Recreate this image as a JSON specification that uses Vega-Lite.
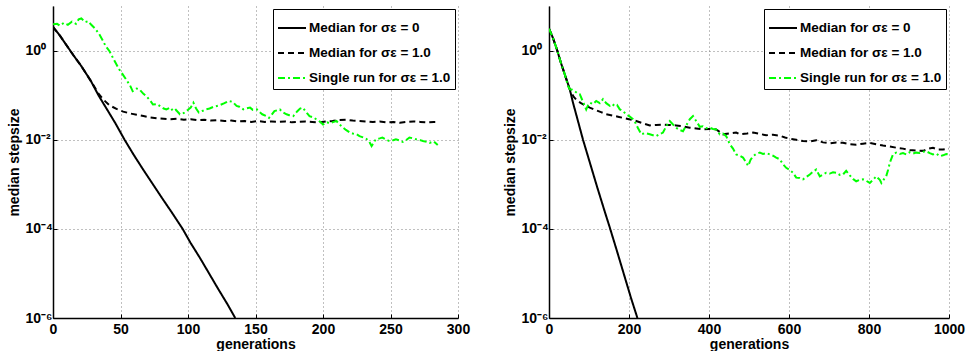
{
  "$schema": "https://vega.github.io/schema/vega-lite/v6.json",
  "background": "white",
  "padding": {"left": 7, "top": 6, "right": 5, "bottom": 0},
  "bounds": "flush",
  "spacing": 91,
  "config": {
    "view": {"stroke": null},
    "font": "Liberation Sans",
    "axis": {
      "labelFont": "Liberation Sans",
      "labelFontWeight": "bold",
      "labelFontSize": 14,
      "labelColor": "black",
      "titleFont": "Liberation Sans",
      "titleFontWeight": "bold",
      "titleFontSize": 14,
      "titleColor": "black",
      "domainColor": "black",
      "domainWidth": 1.5,
      "ticks": true,
      "tickSize": -4,
      "tickColor": "black",
      "tickWidth": 1,
      "gridColor": "#808080",
      "gridDash": [1, 3],
      "gridWidth": 1,
      "labelFlush": false,
      "labelOverlap": false,
      "format": "d"
    },
    "axisX": {"labelPadding": 8, "titlePadding": 1},
    "legend": {
      "orient": "top-right",
      "offset": 3,
      "strokeColor": "black",
      "fillColor": "white",
      "padding": 4,
      "cornerRadius": 0,
      "symbolType": "stroke",
      "symbolSize": 784,
      "symbolStrokeWidth": 2,
      "labelFont": "Liberation Sans",
      "labelFontWeight": "bold",
      "labelFontSize": 13.5,
      "labelColor": "black",
      "labelOffset": 2,
      "rowPadding": 3,
      "labelLimit": 300
    }
  },
  "datasets": {
    "evo300": [
      {"g": 0, "v": 3.39, "s": "m0"}, {"g": 5, "v": 2.19, "s": "m0"}, {"g": 10, "v": 1.318, "s": "m0"},
      {"g": 15, "v": 0.794, "s": "m0"}, {"g": 21, "v": 0.447, "s": "m0"}, {"g": 28, "v": 0.209, "s": "m0"},
      {"g": 34, "v": 0.0955, "s": "m0"}, {"g": 40, "v": 0.0479, "s": "m0"}, {"g": 46, "v": 0.024, "s": "m0"},
      {"g": 53, "v": 0.01, "s": "m0"}, {"g": 60, "v": 0.00447, "s": "m0"}, {"g": 67, "v": 0.00209, "s": "m0"},
      {"g": 74, "v": 0.001, "s": "m0"}, {"g": 81, "v": 0.000479, "s": "m0"}, {"g": 88, "v": 0.000234, "s": "m0"},
      {"g": 96, "v": 0.0001, "s": "m0"}, {"g": 102, "v": 4.79e-5, "s": "m0"}, {"g": 109, "v": 2.19e-5, "s": "m0"},
      {"g": 116, "v": 9.55e-6, "s": "m0"}, {"g": 122, "v": 4.68e-6, "s": "m0"}, {"g": 129, "v": 2.09e-6, "s": "m0"},
      {"g": 135, "v": 1e-6, "s": "m0"},

      {"g": 0, "v": 3.39, "s": "m1"}, {"g": 5, "v": 2.19, "s": "m1"}, {"g": 10, "v": 1.318, "s": "m1"},
      {"g": 15, "v": 0.794, "s": "m1"}, {"g": 21, "v": 0.447, "s": "m1"}, {"g": 28, "v": 0.209, "s": "m1"},
      {"g": 34, "v": 0.1047, "s": "m1"}, {"g": 38, "v": 0.0759, "s": "m1"}, {"g": 42, "v": 0.0589, "s": "m1"},
      {"g": 47, "v": 0.049, "s": "m1"}, {"g": 52, "v": 0.0427, "s": "m1"}, {"g": 57, "v": 0.0389, "s": "m1"},
      {"g": 62, "v": 0.0363, "s": "m1"}, {"g": 67, "v": 0.0339, "s": "m1"}, {"g": 72, "v": 0.0316, "s": "m1"},
      {"g": 77, "v": 0.0302, "s": "m1"}, {"g": 82, "v": 0.0295, "s": "m1"}, {"g": 87, "v": 0.0288, "s": "m1"},
      {"g": 92, "v": 0.0295, "s": "m1"}, {"g": 97, "v": 0.0282, "s": "m1"}, {"g": 102, "v": 0.0288, "s": "m1"},
      {"g": 107, "v": 0.0275, "s": "m1"}, {"g": 112, "v": 0.0282, "s": "m1"}, {"g": 117, "v": 0.0269, "s": "m1"},
      {"g": 122, "v": 0.0275, "s": "m1"}, {"g": 127, "v": 0.0263, "s": "m1"}, {"g": 132, "v": 0.0269, "s": "m1"},
      {"g": 137, "v": 0.0257, "s": "m1"}, {"g": 142, "v": 0.0263, "s": "m1"}, {"g": 147, "v": 0.0251, "s": "m1"},
      {"g": 152, "v": 0.0263, "s": "m1"}, {"g": 157, "v": 0.0251, "s": "m1"}, {"g": 162, "v": 0.0257, "s": "m1"},
      {"g": 167, "v": 0.0251, "s": "m1"}, {"g": 172, "v": 0.0257, "s": "m1"}, {"g": 177, "v": 0.0245, "s": "m1"},
      {"g": 182, "v": 0.0251, "s": "m1"}, {"g": 187, "v": 0.0257, "s": "m1"}, {"g": 192, "v": 0.0251, "s": "m1"},
      {"g": 197, "v": 0.0245, "s": "m1"}, {"g": 202, "v": 0.0257, "s": "m1"}, {"g": 207, "v": 0.0263, "s": "m1"},
      {"g": 212, "v": 0.0275, "s": "m1"}, {"g": 217, "v": 0.0282, "s": "m1"}, {"g": 222, "v": 0.0269, "s": "m1"},
      {"g": 227, "v": 0.0263, "s": "m1"}, {"g": 232, "v": 0.0257, "s": "m1"}, {"g": 237, "v": 0.0251, "s": "m1"},
      {"g": 242, "v": 0.0257, "s": "m1"}, {"g": 247, "v": 0.0245, "s": "m1"}, {"g": 252, "v": 0.0251, "s": "m1"},
      {"g": 257, "v": 0.024, "s": "m1"}, {"g": 262, "v": 0.0251, "s": "m1"}, {"g": 267, "v": 0.0257, "s": "m1"},
      {"g": 272, "v": 0.0251, "s": "m1"}, {"g": 277, "v": 0.0245, "s": "m1"}, {"g": 282, "v": 0.0251, "s": "m1"},
      {"g": 286, "v": 0.0251, "s": "m1"},

      {"g": 0, "v": 3.89, "s": "run"}, {"g": 3, "v": 3.98, "s": "run"}, {"g": 5, "v": 3.63, "s": "run"},
      {"g": 8, "v": 4.17, "s": "run"}, {"g": 11, "v": 3.8, "s": "run"}, {"g": 14, "v": 4.47, "s": "run"},
      {"g": 17, "v": 3.98, "s": "run"}, {"g": 19, "v": 5.01, "s": "run"}, {"g": 21, "v": 5.25, "s": "run"},
      {"g": 24, "v": 4.37, "s": "run"}, {"g": 26, "v": 4.57, "s": "run"}, {"g": 28, "v": 3.89, "s": "run"},
      {"g": 31, "v": 3.16, "s": "run"}, {"g": 34, "v": 2.4, "s": "run"}, {"g": 37, "v": 1.66, "s": "run"},
      {"g": 39, "v": 1.26, "s": "run"}, {"g": 42, "v": 0.955, "s": "run"}, {"g": 45, "v": 0.631, "s": "run"},
      {"g": 49, "v": 0.38, "s": "run"}, {"g": 52, "v": 0.282, "s": "run"}, {"g": 54, "v": 0.229, "s": "run"},
      {"g": 57, "v": 0.166, "s": "run"}, {"g": 59, "v": 0.123, "s": "run"}, {"g": 62, "v": 0.141, "s": "run"},
      {"g": 64, "v": 0.135, "s": "run"}, {"g": 67, "v": 0.107, "s": "run"}, {"g": 69, "v": 0.0955, "s": "run"},
      {"g": 72, "v": 0.0759, "s": "run"}, {"g": 74, "v": 0.0617, "s": "run"}, {"g": 77, "v": 0.0631, "s": "run"},
      {"g": 79, "v": 0.0575, "s": "run"}, {"g": 82, "v": 0.0501, "s": "run"}, {"g": 84, "v": 0.0479, "s": "run"},
      {"g": 87, "v": 0.0525, "s": "run"}, {"g": 89, "v": 0.0437, "s": "run"}, {"g": 91, "v": 0.0468, "s": "run"},
      {"g": 94, "v": 0.0372, "s": "run"}, {"g": 97, "v": 0.0398, "s": "run"}, {"g": 100, "v": 0.0468, "s": "run"},
      {"g": 102, "v": 0.0525, "s": "run"}, {"g": 104, "v": 0.0676, "s": "run"}, {"g": 106, "v": 0.0501, "s": "run"},
      {"g": 108, "v": 0.0407, "s": "run"}, {"g": 111, "v": 0.0447, "s": "run"}, {"g": 113, "v": 0.0479, "s": "run"},
      {"g": 116, "v": 0.0501, "s": "run"}, {"g": 119, "v": 0.055, "s": "run"}, {"g": 123, "v": 0.0589, "s": "run"},
      {"g": 127, "v": 0.0661, "s": "run"}, {"g": 130, "v": 0.0741, "s": "run"}, {"g": 133, "v": 0.0708, "s": "run"},
      {"g": 136, "v": 0.0575, "s": "run"}, {"g": 138, "v": 0.055, "s": "run"}, {"g": 141, "v": 0.0479, "s": "run"},
      {"g": 143, "v": 0.0501, "s": "run"}, {"g": 146, "v": 0.0525, "s": "run"}, {"g": 148, "v": 0.0468, "s": "run"},
      {"g": 151, "v": 0.0479, "s": "run"}, {"g": 153, "v": 0.0417, "s": "run"}, {"g": 155, "v": 0.0372, "s": "run"},
      {"g": 158, "v": 0.0339, "s": "run"}, {"g": 160, "v": 0.0309, "s": "run"}, {"g": 162, "v": 0.0363, "s": "run"},
      {"g": 164, "v": 0.0437, "s": "run"}, {"g": 166, "v": 0.0457, "s": "run"}, {"g": 168, "v": 0.0479, "s": "run"},
      {"g": 170, "v": 0.0417, "s": "run"}, {"g": 173, "v": 0.0372, "s": "run"}, {"g": 175, "v": 0.0355, "s": "run"},
      {"g": 178, "v": 0.0339, "s": "run"}, {"g": 181, "v": 0.0437, "s": "run"}, {"g": 183, "v": 0.0501, "s": "run"},
      {"g": 185, "v": 0.0525, "s": "run"}, {"g": 188, "v": 0.0398, "s": "run"}, {"g": 190, "v": 0.0339, "s": "run"},
      {"g": 193, "v": 0.0316, "s": "run"}, {"g": 195, "v": 0.0288, "s": "run"}, {"g": 198, "v": 0.0251, "s": "run"},
      {"g": 200, "v": 0.0219, "s": "run"}, {"g": 203, "v": 0.0245, "s": "run"}, {"g": 205, "v": 0.0234, "s": "run"},
      {"g": 208, "v": 0.0251, "s": "run"}, {"g": 210, "v": 0.0263, "s": "run"}, {"g": 212, "v": 0.0224, "s": "run"},
      {"g": 215, "v": 0.0186, "s": "run"}, {"g": 217, "v": 0.0166, "s": "run"}, {"g": 220, "v": 0.0145, "s": "run"},
      {"g": 222, "v": 0.0138, "s": "run"}, {"g": 225, "v": 0.0132, "s": "run"}, {"g": 227, "v": 0.012, "s": "run"},
      {"g": 230, "v": 0.0112, "s": "run"}, {"g": 232, "v": 0.0105, "s": "run"}, {"g": 234, "v": 0.00933, "s": "run"},
      {"g": 236, "v": 0.00724, "s": "run"}, {"g": 238, "v": 0.00891, "s": "run"}, {"g": 239, "v": 0.0102, "s": "run"},
      {"g": 242, "v": 0.0107, "s": "run"}, {"g": 244, "v": 0.0112, "s": "run"}, {"g": 247, "v": 0.01, "s": "run"},
      {"g": 249, "v": 0.00933, "s": "run"}, {"g": 252, "v": 0.00977, "s": "run"}, {"g": 254, "v": 0.0102, "s": "run"},
      {"g": 257, "v": 0.00955, "s": "run"}, {"g": 259, "v": 0.00891, "s": "run"}, {"g": 262, "v": 0.01, "s": "run"},
      {"g": 264, "v": 0.0112, "s": "run"}, {"g": 267, "v": 0.0107, "s": "run"}, {"g": 269, "v": 0.0102, "s": "run"},
      {"g": 272, "v": 0.00977, "s": "run"}, {"g": 274, "v": 0.00933, "s": "run"}, {"g": 277, "v": 0.00891, "s": "run"},
      {"g": 279, "v": 0.00851, "s": "run"}, {"g": 282, "v": 0.00912, "s": "run"}, {"g": 285, "v": 0.00759, "s": "run"}
    ],
    "evo1000": [
      {"g": 0, "v": 3.09, "s": "m0"}, {"g": 10, "v": 1.91, "s": "m0"}, {"g": 20, "v": 1.047, "s": "m0"},
      {"g": 30, "v": 0.525, "s": "m0"}, {"g": 40, "v": 0.282, "s": "m0"}, {"g": 52, "v": 0.135, "s": "m0"},
      {"g": 60, "v": 0.0676, "s": "m0"}, {"g": 70, "v": 0.0316, "s": "m0"}, {"g": 85, "v": 0.01, "s": "m0"},
      {"g": 100, "v": 0.00355, "s": "m0"}, {"g": 120, "v": 0.000891, "s": "m0"}, {"g": 140, "v": 0.000234, "s": "m0"},
      {"g": 152, "v": 0.000107, "s": "m0"}, {"g": 170, "v": 3.16e-5, "s": "m0"}, {"g": 190, "v": 7.94e-6, "s": "m0"},
      {"g": 205, "v": 2.82e-6, "s": "m0"}, {"g": 221, "v": 1e-6, "s": "m0"},

      {"g": 0, "v": 3.09, "s": "m1"}, {"g": 10, "v": 1.91, "s": "m1"}, {"g": 20, "v": 1.047, "s": "m1"},
      {"g": 30, "v": 0.525, "s": "m1"}, {"g": 40, "v": 0.282, "s": "m1"}, {"g": 50, "v": 0.148, "s": "m1"},
      {"g": 56, "v": 0.112, "s": "m1"}, {"g": 62, "v": 0.0912, "s": "m1"}, {"g": 70, "v": 0.0759, "s": "m1"},
      {"g": 80, "v": 0.0661, "s": "m1"}, {"g": 90, "v": 0.0589, "s": "m1"}, {"g": 102, "v": 0.0525, "s": "m1"},
      {"g": 115, "v": 0.0468, "s": "m1"}, {"g": 130, "v": 0.0417, "s": "m1"}, {"g": 143, "v": 0.0372, "s": "m1"},
      {"g": 160, "v": 0.0347, "s": "m1"}, {"g": 175, "v": 0.0324, "s": "m1"}, {"g": 185, "v": 0.0309, "s": "m1"},
      {"g": 200, "v": 0.0288, "s": "m1"}, {"g": 218, "v": 0.0263, "s": "m1"}, {"g": 235, "v": 0.0234, "s": "m1"},
      {"g": 252, "v": 0.0209, "s": "m1"}, {"g": 268, "v": 0.0214, "s": "m1"}, {"g": 285, "v": 0.0219, "s": "m1"},
      {"g": 300, "v": 0.0214, "s": "m1"}, {"g": 318, "v": 0.0209, "s": "m1"}, {"g": 335, "v": 0.02, "s": "m1"},
      {"g": 352, "v": 0.0186, "s": "m1"}, {"g": 368, "v": 0.0178, "s": "m1"}, {"g": 385, "v": 0.017, "s": "m1"},
      {"g": 400, "v": 0.0174, "s": "m1"}, {"g": 418, "v": 0.017, "s": "m1"}, {"g": 435, "v": 0.0132, "s": "m1"},
      {"g": 452, "v": 0.0138, "s": "m1"}, {"g": 468, "v": 0.0145, "s": "m1"}, {"g": 477, "v": 0.0132, "s": "m1"},
      {"g": 495, "v": 0.0138, "s": "m1"}, {"g": 510, "v": 0.0145, "s": "m1"}, {"g": 527, "v": 0.0135, "s": "m1"},
      {"g": 543, "v": 0.0126, "s": "m1"}, {"g": 560, "v": 0.0129, "s": "m1"}, {"g": 577, "v": 0.0123, "s": "m1"},
      {"g": 590, "v": 0.0112, "s": "m1"}, {"g": 602, "v": 0.0105, "s": "m1"}, {"g": 618, "v": 0.01, "s": "m1"},
      {"g": 635, "v": 0.00933, "s": "m1"}, {"g": 652, "v": 0.00912, "s": "m1"}, {"g": 668, "v": 0.00977, "s": "m1"},
      {"g": 685, "v": 0.00871, "s": "m1"}, {"g": 702, "v": 0.00832, "s": "m1"}, {"g": 718, "v": 0.00871, "s": "m1"},
      {"g": 735, "v": 0.00851, "s": "m1"}, {"g": 752, "v": 0.00794, "s": "m1"}, {"g": 768, "v": 0.00776, "s": "m1"},
      {"g": 785, "v": 0.00813, "s": "m1"}, {"g": 802, "v": 0.00851, "s": "m1"}, {"g": 818, "v": 0.00794, "s": "m1"},
      {"g": 835, "v": 0.00741, "s": "m1"}, {"g": 852, "v": 0.00708, "s": "m1"}, {"g": 868, "v": 0.00661, "s": "m1"},
      {"g": 885, "v": 0.00631, "s": "m1"}, {"g": 902, "v": 0.00589, "s": "m1"}, {"g": 918, "v": 0.00575, "s": "m1"},
      {"g": 935, "v": 0.00562, "s": "m1"}, {"g": 950, "v": 0.00631, "s": "m1"}, {"g": 960, "v": 0.00661, "s": "m1"},
      {"g": 972, "v": 0.00603, "s": "m1"}, {"g": 985, "v": 0.00603, "s": "m1"}, {"g": 1000, "v": 0.00631, "s": "m1"},

      {"g": 0, "v": 3.09, "s": "run"}, {"g": 10, "v": 1.91, "s": "run"}, {"g": 20, "v": 1.047, "s": "run"},
      {"g": 30, "v": 0.525, "s": "run"}, {"g": 40, "v": 0.282, "s": "run"}, {"g": 48, "v": 0.158, "s": "run"},
      {"g": 52, "v": 0.135, "s": "run"}, {"g": 58, "v": 0.132, "s": "run"}, {"g": 64, "v": 0.123, "s": "run"},
      {"g": 70, "v": 0.112, "s": "run"}, {"g": 77, "v": 0.105, "s": "run"}, {"g": 85, "v": 0.0708, "s": "run"},
      {"g": 93, "v": 0.0479, "s": "run"}, {"g": 98, "v": 0.0603, "s": "run"}, {"g": 102, "v": 0.0676, "s": "run"},
      {"g": 110, "v": 0.0631, "s": "run"}, {"g": 118, "v": 0.0741, "s": "run"}, {"g": 127, "v": 0.0661, "s": "run"},
      {"g": 135, "v": 0.0813, "s": "run"}, {"g": 143, "v": 0.0661, "s": "run"}, {"g": 152, "v": 0.0575, "s": "run"},
      {"g": 158, "v": 0.0631, "s": "run"}, {"g": 164, "v": 0.0575, "s": "run"}, {"g": 170, "v": 0.0603, "s": "run"},
      {"g": 177, "v": 0.0479, "s": "run"}, {"g": 185, "v": 0.0437, "s": "run"}, {"g": 193, "v": 0.0372, "s": "run"},
      {"g": 202, "v": 0.0331, "s": "run"}, {"g": 210, "v": 0.0288, "s": "run"}, {"g": 216, "v": 0.024, "s": "run"},
      {"g": 222, "v": 0.0186, "s": "run"}, {"g": 231, "v": 0.0132, "s": "run"}, {"g": 240, "v": 0.0141, "s": "run"},
      {"g": 252, "v": 0.0132, "s": "run"}, {"g": 260, "v": 0.0126, "s": "run"}, {"g": 268, "v": 0.012, "s": "run"},
      {"g": 276, "v": 0.0132, "s": "run"}, {"g": 285, "v": 0.0145, "s": "run"}, {"g": 293, "v": 0.02, "s": "run"},
      {"g": 302, "v": 0.0263, "s": "run"}, {"g": 310, "v": 0.0219, "s": "run"}, {"g": 318, "v": 0.0186, "s": "run"},
      {"g": 326, "v": 0.0166, "s": "run"}, {"g": 335, "v": 0.0155, "s": "run"}, {"g": 343, "v": 0.0209, "s": "run"},
      {"g": 352, "v": 0.0288, "s": "run"}, {"g": 360, "v": 0.0339, "s": "run"}, {"g": 368, "v": 0.0263, "s": "run"},
      {"g": 377, "v": 0.0195, "s": "run"}, {"g": 385, "v": 0.02, "s": "run"}, {"g": 393, "v": 0.0182, "s": "run"},
      {"g": 402, "v": 0.0186, "s": "run"}, {"g": 410, "v": 0.0174, "s": "run"}, {"g": 418, "v": 0.017, "s": "run"},
      {"g": 427, "v": 0.0132, "s": "run"}, {"g": 435, "v": 0.0138, "s": "run"}, {"g": 443, "v": 0.012, "s": "run"},
      {"g": 452, "v": 0.00794, "s": "run"}, {"g": 460, "v": 0.00631, "s": "run"}, {"g": 468, "v": 0.00468, "s": "run"},
      {"g": 477, "v": 0.00437, "s": "run"}, {"g": 485, "v": 0.00398, "s": "run"}, {"g": 492, "v": 0.00316, "s": "run"},
      {"g": 498, "v": 0.00257, "s": "run"}, {"g": 504, "v": 0.00355, "s": "run"}, {"g": 510, "v": 0.00427, "s": "run"},
      {"g": 518, "v": 0.00479, "s": "run"}, {"g": 527, "v": 0.00513, "s": "run"}, {"g": 535, "v": 0.00479, "s": "run"},
      {"g": 543, "v": 0.00501, "s": "run"}, {"g": 552, "v": 0.00468, "s": "run"}, {"g": 560, "v": 0.00437, "s": "run"},
      {"g": 568, "v": 0.00398, "s": "run"}, {"g": 577, "v": 0.00363, "s": "run"}, {"g": 585, "v": 0.00282, "s": "run"},
      {"g": 593, "v": 0.00234, "s": "run"}, {"g": 602, "v": 0.00209, "s": "run"}, {"g": 610, "v": 0.00182, "s": "run"},
      {"g": 618, "v": 0.00141, "s": "run"}, {"g": 627, "v": 0.00138, "s": "run"}, {"g": 635, "v": 0.00129, "s": "run"},
      {"g": 643, "v": 0.00145, "s": "run"}, {"g": 652, "v": 0.00166, "s": "run"}, {"g": 660, "v": 0.00191, "s": "run"},
      {"g": 668, "v": 0.00214, "s": "run"}, {"g": 677, "v": 0.00151, "s": "run"}, {"g": 685, "v": 0.00166, "s": "run"},
      {"g": 693, "v": 0.00182, "s": "run"}, {"g": 702, "v": 0.00174, "s": "run"}, {"g": 710, "v": 0.00186, "s": "run"},
      {"g": 718, "v": 0.00182, "s": "run"}, {"g": 727, "v": 0.00162, "s": "run"}, {"g": 735, "v": 0.00166, "s": "run"},
      {"g": 743, "v": 0.002, "s": "run"}, {"g": 752, "v": 0.00158, "s": "run"}, {"g": 760, "v": 0.00132, "s": "run"},
      {"g": 768, "v": 0.00117, "s": "run"}, {"g": 777, "v": 0.00126, "s": "run"}, {"g": 785, "v": 0.00129, "s": "run"},
      {"g": 793, "v": 0.0012, "s": "run"}, {"g": 802, "v": 0.00107, "s": "run"}, {"g": 810, "v": 0.00126, "s": "run"},
      {"g": 818, "v": 0.00151, "s": "run"}, {"g": 827, "v": 0.00126, "s": "run"}, {"g": 831, "v": 0.00107, "s": "run"},
      {"g": 838, "v": 0.00132, "s": "run"}, {"g": 843, "v": 0.00151, "s": "run"}, {"g": 848, "v": 0.00214, "s": "run"},
      {"g": 852, "v": 0.00302, "s": "run"}, {"g": 860, "v": 0.00468, "s": "run"}, {"g": 868, "v": 0.00513, "s": "run"},
      {"g": 877, "v": 0.00479, "s": "run"}, {"g": 885, "v": 0.00501, "s": "run"}, {"g": 893, "v": 0.00468, "s": "run"},
      {"g": 902, "v": 0.00525, "s": "run"}, {"g": 910, "v": 0.0049, "s": "run"}, {"g": 918, "v": 0.00513, "s": "run"},
      {"g": 927, "v": 0.00501, "s": "run"}, {"g": 935, "v": 0.00537, "s": "run"}, {"g": 943, "v": 0.0055, "s": "run"},
      {"g": 952, "v": 0.00501, "s": "run"}, {"g": 960, "v": 0.00468, "s": "run"}, {"g": 968, "v": 0.0049, "s": "run"},
      {"g": 977, "v": 0.00427, "s": "run"}, {"g": 985, "v": 0.00447, "s": "run"}, {"g": 993, "v": 0.00479, "s": "run"},
      {"g": 998, "v": 0.00468, "s": "run"}
    ]
  },
  "resolve": {
    "scale": {"color": "independent", "strokeDash": "independent"},
    "legend": {"color": "independent", "strokeDash": "independent"}
  },
  "hconcat": [
    {
      "width": 405,
      "height": 312,
      "data": {"name": "evo300"},
      "mark": {"type": "line", "clip": true, "strokeWidth": 2},
      "encoding": {
        "x": {
          "field": "g", "type": "quantitative",
          "scale": {"domain": [0, 300], "nice": false},
          "axis": {"values": [0, 50, 100, 150, 200, 250, 300], "title": "generations"}
        },
        "y": {
          "field": "v", "type": "quantitative",
          "scale": {"type": "log", "domain": [1e-6, 10], "nice": false},
          "axis": {
            "values": [1e-6, 0.0001, 0.01, 1],
            "title": "median stepsize",
            "labelAlign": "left",
            "labelBaseline": "middle",
            "labelPadding": 32,
            "titlePadding": 4,
            "labelExpr": "datum.value >= 0.5 ? '10⁰' : datum.value >= 0.005 ? '10⁻²' : datum.value >= 0.00005 ? '10⁻⁴' : '10⁻⁶'"
          }
        },
        "color": {
          "field": "s", "type": "nominal",
          "scale": {"domain": ["m0", "m1", "run"], "range": ["#000000", "#000000", "#00ff00"]},
          "legend": {
            "title": null,
            "labelExpr": "datum.label == 'm0' ? 'Median for σε = 0' : datum.label == 'm1' ? 'Median for σε = 1.0' : 'Single run for σε = 1.0'"
          }
        },
        "strokeDash": {
          "field": "s", "type": "nominal",
          "scale": {"domain": ["m0", "m1", "run"], "range": [[1, 0], [6, 4], [7, 3, 2, 3]]},
          "legend": {
            "title": null,
            "labelExpr": "datum.label == 'm0' ? 'Median for σε = 0' : datum.label == 'm1' ? 'Median for σε = 1.0' : 'Single run for σε = 1.0'"
          }
        }
      }
    },
    {
      "width": 400,
      "height": 312,
      "data": {"name": "evo1000"},
      "mark": {"type": "line", "clip": true, "strokeWidth": 2},
      "encoding": {
        "x": {
          "field": "g", "type": "quantitative",
          "scale": {"domain": [0, 1000], "nice": false},
          "axis": {"values": [0, 200, 400, 600, 800, 1000], "title": "generations"}
        },
        "y": {
          "field": "v", "type": "quantitative",
          "scale": {"type": "log", "domain": [1e-6, 10], "nice": false},
          "axis": {
            "values": [1e-6, 0.0001, 0.01, 1],
            "title": "median stepsize",
            "labelAlign": "left",
            "labelBaseline": "middle",
            "labelPadding": 32,
            "titlePadding": 4,
            "labelExpr": "datum.value >= 0.5 ? '10⁰' : datum.value >= 0.005 ? '10⁻²' : datum.value >= 0.00005 ? '10⁻⁴' : '10⁻⁶'"
          }
        },
        "color": {
          "field": "s", "type": "nominal",
          "scale": {"domain": ["m0", "m1", "run"], "range": ["#000000", "#000000", "#00ff00"]},
          "legend": {
            "title": null,
            "labelExpr": "datum.label == 'm0' ? 'Median for σε = 0' : datum.label == 'm1' ? 'Median for σε = 1.0' : 'Single run for σε = 1.0'"
          }
        },
        "strokeDash": {
          "field": "s", "type": "nominal",
          "scale": {"domain": ["m0", "m1", "run"], "range": [[1, 0], [6, 4], [7, 3, 2, 3]]},
          "legend": {
            "title": null,
            "labelExpr": "datum.label == 'm0' ? 'Median for σε = 0' : datum.label == 'm1' ? 'Median for σε = 1.0' : 'Single run for σε = 1.0'"
          }
        }
      }
    }
  ]
}
